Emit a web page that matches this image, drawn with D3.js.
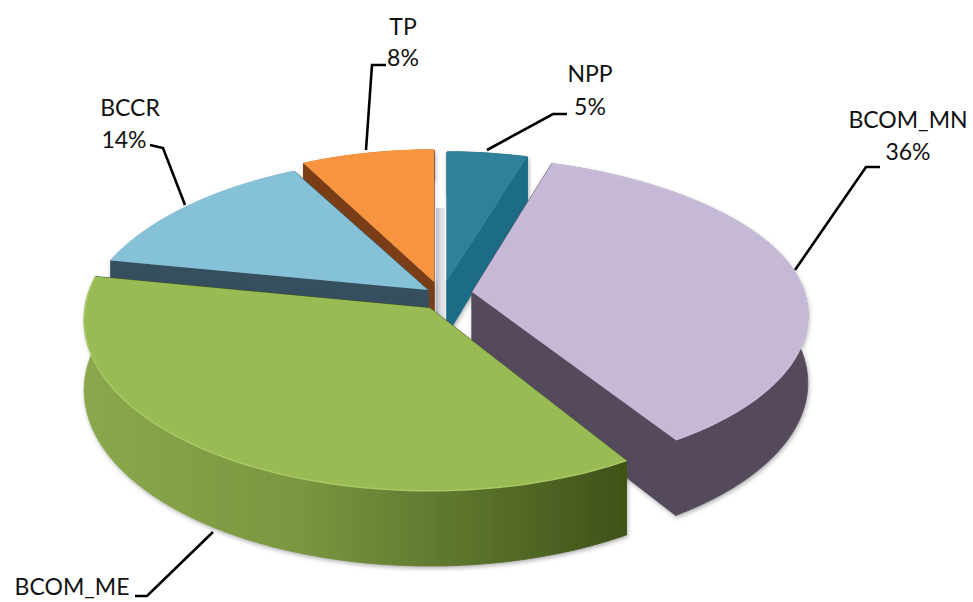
<!DOCTYPE html>
<html><head><meta charset="utf-8">
<script src="https://cdn.jsdelivr.net/npm/d3@7"></script>
<style>html,body{margin:0;background:#fff}svg{display:block}</style></head>
<body><div id="c"></div>
<script>
const categories = ["NPP","BCOM_MN","BCOM_ME","BCCR","TP"];
const values = [5,36,37,14,8];
const percentLabels = ["5%","36%","","14%","8%"];
const topColors = ["#2f809b","#c6b9d7","#98bb54","#86c2d7","#f6943f"];
const wallStart = ["#1f6c87","#544a5c","#8aa84c","#35505f","#7a3e16"];
const wallEnd = ["#1f6c87","#544a5c","#3f5218","#35505f","#7a3e16"];
const rimColors = ["#2f809b","#c9bdd9","#a9c866","#86c2d7","#f6943f"];
// projection of each exploded slice: apex, radii, perspective (back half kb / Ryb)
const sliceLayout = {
  NPP:{ax:447,ay:280,R:322,Ry:160,k:.25,D:55},
  BCOM_MN:{ax:472,ay:292,R:332,Ry:153,Ryb:176,k:.15,kb:.32,D:66},
  BCOM_ME:{ax:430,ay:308,R:345,Ry:170,k:.07,D:70},
  BCCR:{ax:428,ay:290,R:338,Ry:165,k:.25,D:20},
  TP:{ax:434,ay:282,R:330,Ry:165,k:.25,D:38}
};
const drawOrder = ["TP","BCCR","NPP","BCOM_MN","BCOM_ME"];
const labelLayout = {
  NPP:{x:590,y:82,px:590,py:115,line:[[567,114],[553,114],[487,150]]},
  BCOM_MN:{x:908,y:128,px:908,py:160,line:[[880,167],[866,167],[795,270]]},
  BCOM_ME:{x:72,y:595,line:[[135,596],[147,596],[213,532]]},
  BCCR:{x:130,y:116,px:124,py:148,line:[[150,145],[163,148],[185,205]]},
  TP:{x:403,y:35,px:403,py:66,line:[[386,65],[372,65],[366,150]]}
};
const W=973,H=602;
const svg=d3.select("#c").append("svg").attr("width",W).attr("height",H);
const defs=svg.append("defs");
const blur=defs.append("filter").attr("id","soft").attr("x","-5%").attr("y","-5%").attr("width","110%").attr("height","115%");
blur.append("feDropShadow").attr("dx",1).attr("dy",2).attr("stdDeviation",2).attr("flood-color","#555").attr("flood-opacity",.45);
const sliver=defs.append("linearGradient").attr("id","sliver");
sliver.append("stop").attr("offset",0).attr("stop-color","#c4c4ce");
sliver.append("stop").attr("offset",1).attr("stop-color","#f0f0f3");

const pie=d3.pie().sort(null).value(d=>d.v).startAngle(0).endAngle(2*Math.PI);
const arcs=pie(categories.map((c,i)=>({c,v:values[i],i})));
const byName=new Map(arcs.map(a=>[a.data.c,a]));
const line=d3.line();

function proj(L,a,r,z){
  const u=r*Math.sin(a), v=-r*Math.cos(a);
  const back=v<0?v*v:0;
  const k=L.k+((L.kb===undefined?L.k:L.kb)-L.k)*back;
  const Ry=L.Ry+((L.Ryb===undefined?L.Ry:L.Ryb)-L.Ry)*back;
  const f=1/(1-k*v);
  return [L.ax+L.R*u*f, L.ay+Ry*v*f+z*L.D*f];
}
function rim(L,a0,a1,z){
  const n=Math.max(8,Math.ceil((a1-a0)*40));
  return d3.range(n+1).map(i=>proj(L,a0+(a1-a0)*i/n,1,z));
}
function closed(pts){return line(pts)+"Z";}

// pale sliver in the gap between TP and NPP
svg.append("rect").attr("x",436).attr("y",208).attr("width",9).attr("height",112).attr("fill","url(#sliver)");

drawOrder.forEach(name=>{
  const d=byName.get(name), i=d.data.i, L=sliceLayout[name];
  const a0=d.startAngle,a1=d.endAngle;
  const top=rim(L,a0,a1,0), bot=rim(L,a0,a1,1);
  const xs=top.map(p=>p[0]);
  const gid="wall"+i;
  const g=defs.append("linearGradient").attr("id",gid).attr("gradientUnits","userSpaceOnUse")
    .attr("x1",d3.min(xs)).attr("x2",d3.max(xs)).attr("y1",0).attr("y2",0);
  g.append("stop").attr("offset",0).attr("stop-color",wallStart[i]);
  if(name==="BCOM_ME") g.append("stop").attr("offset",.4).attr("stop-color","#7a9640");
  g.append("stop").attr("offset",1).attr("stop-color",wallEnd[i]);
  const s=svg.append("g").attr("class","slice").attr("data-name",name);
  const walls=s.append("g").attr("filter","url(#soft)");
  const apexT=proj(L,0,0,0), apexB=proj(L,0,0,1);
  [top[0],top[top.length-1]].forEach((t,j)=>{
    const b=j?bot[bot.length-1]:bot[0];
    walls.append("path").attr("d",closed([apexT,t,b,apexB])).attr("fill",wallEnd[i]).attr("stroke",wallEnd[i]).attr("stroke-width",.8);
  });
  walls.append("path").attr("d",closed(top.concat(bot.slice().reverse()))).attr("fill",`url(#${gid})`).attr("stroke",`url(#${gid})`).attr("stroke-width",.8);
  s.append("path").attr("d",closed([apexT].concat(top))).attr("fill",topColors[i]);
  s.append("path").attr("d",line(top)).attr("fill","none").attr("stroke",rimColors[i]).attr("stroke-width",1.5);
});

const font="Lato, Carlito, 'Open Sans', sans-serif";
categories.forEach((c,i)=>{
  const l=labelLayout[c];
  svg.append("path").attr("d",line(l.line)).attr("fill","none").attr("stroke","#000").attr("stroke-width",2.6);
  svg.append("text").attr("x",l.x).attr("y",l.y).attr("text-anchor","middle").attr("font-family",font).attr("font-size",23).attr("fill","#111").text(c);
  if(percentLabels[i]) svg.append("text").attr("x",l.px).attr("y",l.py).attr("text-anchor","middle").attr("font-family",font).attr("font-size",23).attr("fill","#111").text(percentLabels[i]);
});
</script></body></html>
